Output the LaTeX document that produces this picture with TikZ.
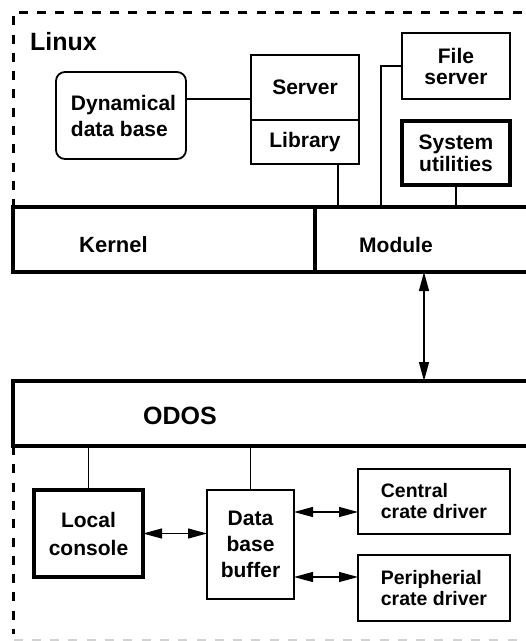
\documentclass[tikz,border=0pt]{standalone}
\usepackage{fontspec}
\setmainfont{Liberation Sans}
\usetikzlibrary{arrows.meta,positioning,calc}
\tikzset{
  box/.style={rectangle, draw, line width=1.8pt, inner sep=0pt, outer sep=0pt, align=center, font=\fontsize{21}{26}\selectfont\bfseries},
  heavybox/.style={box, line width=3.5pt},
  layer/.style={rectangle, draw, line width=3.5pt, inner sep=0pt, outer sep=0pt, minimum height=65pt},
  title/.style={anchor=base west, inner sep=0pt, font=\fontsize{22}{26}\selectfont\bfseries},
  bigtitle/.style={title, font=\fontsize{25}{30}\selectfont\bfseries},
  border/.style={line width=3pt, dash pattern=on 9pt off 9.3pt},
  link/.style={line width=1.8pt},
  duplex/.style={<->, line width=1.2pt, >={Triangle[length=19pt,width=10pt]}},
}

\begin{document}
\begin{tikzpicture}[x=1pt, y=-1pt]
\useasboundingbox (0,0) rectangle (526,641);
\clip (0,0) rectangle (526,641);

\draw[border] (540,12) -- (13.5,12) -- (13.5,207);
\node[bigtitle] (linux) at (30,50) {Linux};
\node[box, rounded corners=9pt, align=left, minimum width=130pt, minimum height=87pt] (dyn) at (121,115.5) {\hspace*{5pt}Dynamical\\\hspace*{5pt}data base};
\node[box, minimum width=108pt, minimum height=65pt] (server) at (305,87.5) {Server};
\node[box, minimum width=108pt, minimum height=44pt, below=0pt of server] (library) {Library};
\node[box, minimum width=108pt, minimum height=66pt, font=\fontsize{21}{21}\selectfont\bfseries] (fsrv) at (456,66) {File\\server};
\node[heavybox, minimum width=108pt, minimum height=64pt, font=\fontsize{21}{22}\selectfont\bfseries] (sysut) at (456,153) {System\\utilities};

\node[layer, minimum width=302pt] (kernel) at (164,239.5) {};
\node[layer, minimum width=225pt, right=0pt of kernel] (module) {};
\node[title] (kerneltxt) at (79,252) {Kernel};
\node[title, font=\fontsize{21}{26}\selectfont\bfseries] (moduletxt) at (359,252) {Module};

\draw[link] ([yshift=16.5pt]dyn.east) -- ([yshift=16.5pt]dyn.east -| server.west);
\draw[link] ([xshift=33pt]library.south) -- ([xshift=33pt]library.south |- kernel.north);
\draw[link] (fsrv.west) -| ([xshift=66pt]module.north west);
\draw[link] (sysut.south) -- (sysut.south |- module.north);

\node[layer, minimum width=527pt] (odos) at (276.5,413.5) {};
\node[bigtitle] (odostxt) at (143,424) {ODOS};
\draw[duplex] ([xshift=109pt]module.south west) -- ([xshift=109pt]module.south west |- odos.north);

\draw[border] (13.5,446) -- (13.5,634);
\draw[border, gray!35] (13.5,640) -- (540,640);

\node[heavybox, minimum width=109pt, minimum height=87pt, font=\fontsize{21}{28}\selectfont\bfseries] (local) at (88.5,533.5) {Local\\console};
\node[box, minimum width=87pt, minimum height=109pt] (dbbuf) at (250.5,544.5) {Data\\base\\buffer};
\node[box, align=left, minimum width=152pt, minimum height=65pt, font=\fontsize{19.5}{21}\selectfont\bfseries] (ccd) at (434,501.5) {Central\\crate driver};
\node[box, align=left, minimum width=152pt, minimum height=66pt, font=\fontsize{19.5}{21}\selectfont\bfseries, below=21pt of ccd] (pcd) {Peripherial\\crate driver};

\draw[link] (local.north) -- (local.north |- odos.south);
\draw[link] (dbbuf.north) -- (dbbuf.north |- odos.south);
\draw[duplex] (local.east) -- (local.east -| dbbuf.west);
\draw[duplex] ([yshift=32.5pt]dbbuf.east) -- ([yshift=32.5pt]dbbuf.east -| ccd.west);
\draw[duplex] ([yshift=-32.5pt]dbbuf.east) -- ([yshift=-32.5pt]dbbuf.east -| pcd.west);
\end{tikzpicture}
\end{document}
